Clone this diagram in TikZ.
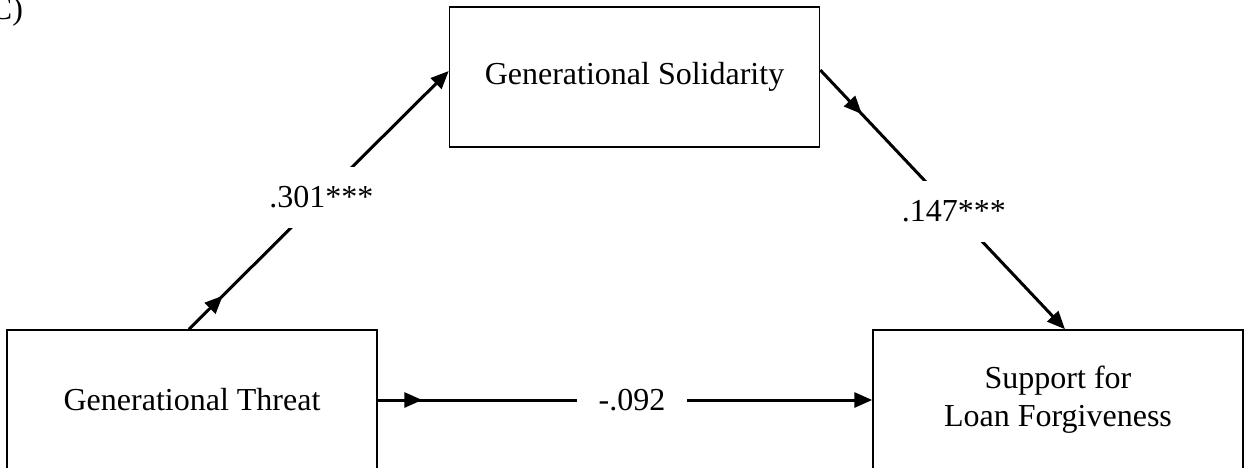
\documentclass[tikz,border=0pt]{standalone}
\usepackage{fontspec}
\setmainfont{Liberation Serif}
\usetikzlibrary{arrows.meta,decorations.markings}

\begin{document}
\begin{tikzpicture}[x=0.5pt,y=-0.5pt,>={Triangle[length=9pt,width=7.5pt]},
        font=\fontsize{16}{19}\selectfont,
        var node/.style={draw,line width=0.75pt,minimum width=185pt,minimum height=70pt,align=center},
        coef/.style={fill=white,inner xsep=11pt,inner ysep=10pt},
        link/.style={->,line width=1.5pt},
        mid arrow/.style={postaction={decorate},decoration={markings,mark=at position #1 with {\arrow{>}}}}]
                \clip (0,0) rectangle (1244,467);
                \node[anchor=base east] (tag) at (30,19) {C)};
                \node[var node] (thr) at (192,400) {Generational Threat};
                \node[var node] (sol) at (634.5,77) {Generational Solidarity};
                \node[var node] (sup) at (1058,400) {Support for\\Loan Forgiveness};

                \draw[link,mid arrow=0.13] ([xshift=-1.5pt]thr.north) -- node[coef,pos=0.51] {.301***} ([yshift=3pt]sol.west);
                \draw[link,mid arrow=0.17] ([yshift=3.5pt]sol.east) -- node[coef,pos=0.546] {.147***} ([xshift=3.5pt]sup.north);
                \draw[link,mid arrow=0.09] (thr) -- node[coef,pos=0.514] {-.092} (sup);
            \end{tikzpicture}
\end{document}
